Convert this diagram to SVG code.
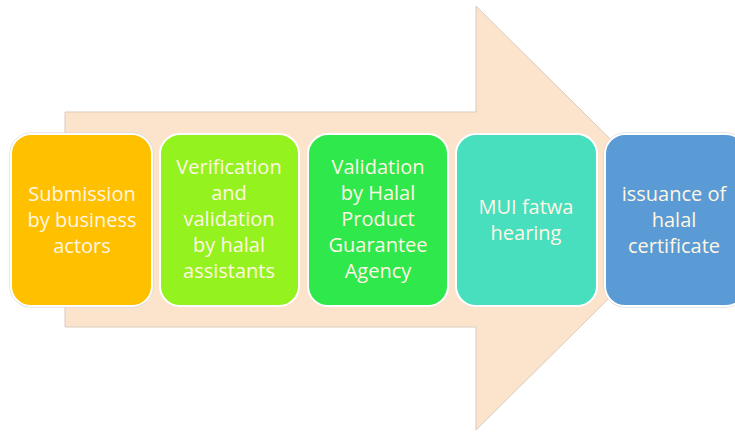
<svg xmlns="http://www.w3.org/2000/svg" width="735" height="433" viewBox="0 0 735 433">
<style>
.box{stroke:#ffffff;stroke-width:2}
.rim{fill:none;stroke:#cfcfcf;stroke-width:1}
.t{font-family:"Open Sans","Noto Sans",sans-serif;font-size:20px;fill:#FFF6E4;text-anchor:middle}
</style>
<rect width="735" height="433" fill="#ffffff"/>
<g id="arrow">
<path d="M65,112 L476,112 L476,6 L690,218 L476,430 L476,327 L65,327 Z" fill="#FCE4CC" stroke="#D8CBBE" stroke-width="1"/>
</g>
<g id="connectors"></g>
<g id="n1">
<rect class="rim" x="10" y="133" width="143" height="174" rx="21"/>
<rect class="box" x="11" y="134" width="141" height="172" rx="20" fill="#FFC000"/>
<text class="t" x="82" y="201">Submission</text>
<text class="t" x="82" y="227">by business</text>
<text class="t" x="82" y="253">actors</text>
</g>
<g id="n2">
<rect class="box" x="160" y="134" width="139" height="172" rx="20" fill="#94F21E"/>
<text class="t" x="229" y="174">Verification</text>
<text class="t" x="229" y="200">and</text>
<text class="t" x="229" y="226">validation</text>
<text class="t" x="229" y="252">by halal</text>
<text class="t" x="229" y="278">assistants</text>
</g>
<g id="n3">
<rect class="box" x="308" y="134" width="140" height="172" rx="20" fill="#2EE84C"/>
<text class="t" x="378" y="174">Validation</text>
<text class="t" x="378" y="200">by Halal</text>
<text class="t" x="378" y="226">Product</text>
<text class="t" x="378" y="252">Guarantee</text>
<text class="t" x="378" y="278">Agency</text>
</g>
<g id="n4">
<rect class="box" x="456" y="134" width="141" height="172" rx="20" fill="#48DFBF"/>
<text class="t" x="526" y="214">MUI fatwa</text>
<text class="t" x="526" y="240">hearing</text>
</g>
<g id="n5">
<rect class="rim" x="604" y="133" width="143" height="174" rx="21"/>
<rect class="box" x="605" y="134" width="141" height="172" rx="20" fill="#5B9BD5"/>
<text class="t" x="674" y="201">issuance of</text>
<text class="t" x="674" y="227">halal</text>
<text class="t" x="674" y="253">certificate</text>
</g>
</svg>
